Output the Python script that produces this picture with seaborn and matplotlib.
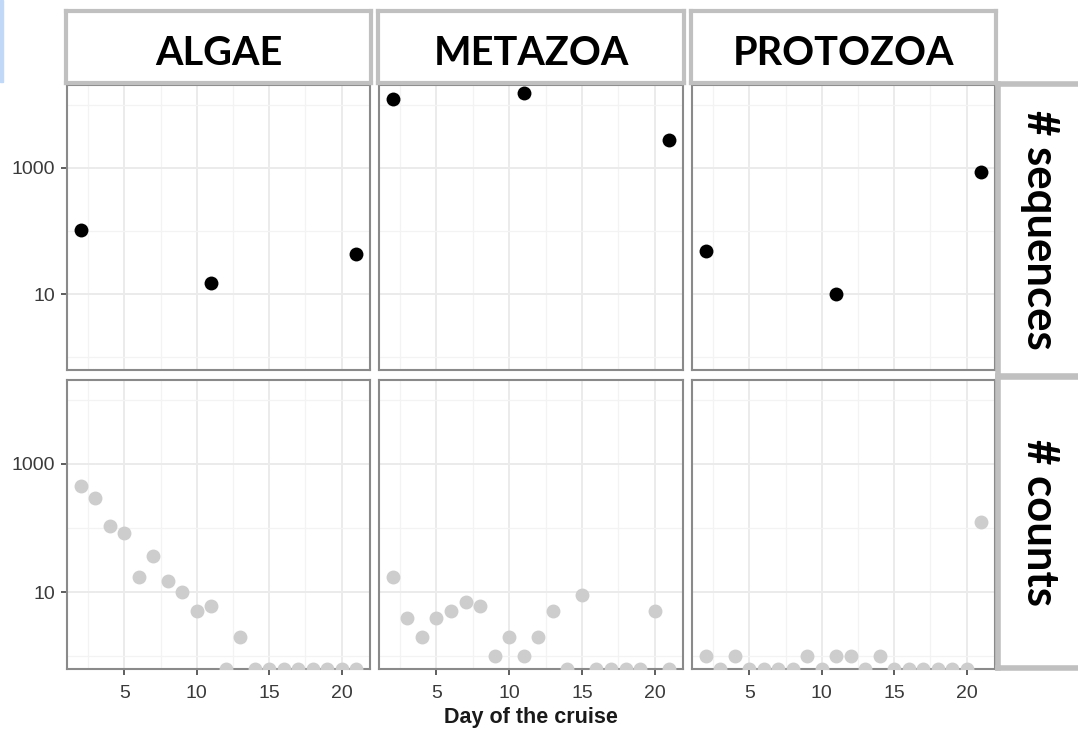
import numpy as np
import pandas as pd
import matplotlib
matplotlib.use("Agg")
import matplotlib.pyplot as plt
from matplotlib.patches import Rectangle
from matplotlib.ticker import FixedLocator, FuncFormatter, NullFormatter
import seaborn as sns

# facets
groups = ["ALGAE", "METAZOA", "PROTOZOA"]
measures = ["# sequences", "# counts"]

# sequences: only three sampling days
seq_days = [2, 11, 21]
seq_algae = [105, 15, 44]
seq_metazoa = [12400, 15500, 2800]
seq_protozoa = [48, 10, 850]

# counts: every day of the cruise (0 = nothing found)
count_days = list(range(2, 22))
counts_algae = [450, 295, 108, 83, 17, 36, 15, 10, 5, 6, 0, 2, 0, 0, 0, 0, 0, 0, 0, 0]
counts_metazoa = [17, 4, 2, 4, 5, 7, 6, 1, 2, 1, 2, 5, 0, 9, 0, 0, 0, 0, 5, 0]
counts_protozoa = [1, 0, 1, 0, 0, 0, 0, 1, 0, 1, 1, 0, 1, 0, 0, 0, 0, 0, 0, 125]

x_ticks = [5, 10, 15, 20]
y_ticks = [10, 1000]

rows = []
for g, vals in zip(groups, [seq_algae, seq_metazoa, seq_protozoa]):
    for d, v in zip(seq_days, vals):
        rows.append(dict(group=g, measure="# sequences", day=d, value=v))
for g, vals in zip(groups, [counts_algae, counts_metazoa, counts_protozoa]):
    for d, v in zip(count_days, vals):
        rows.append(dict(group=g, measure="# counts", day=d, value=v))
df = pd.DataFrame(rows)

sns.set_style("white")
plt.rcParams["font.family"] = ["Liberation Sans", "DejaVu Sans"]

W, H = 1078, 731
fig = plt.figure(figsize=(W / 100, H / 100), dpi=100)


def box(x0, y0, x1, y1):
    # pixel box (from top-left) -> figure fraction rect
    return [x0 / W, 1 - y1 / H, (x1 - x0) / W, (y1 - y0) / H]


col_px = [(67, 370), (379, 683), (692, 995)]
row_px = [(85, 370), (380, 669)]
point_colors = ["black", "#cdcdcd"]
ylo, yhi = 10 ** -0.2, 10 ** 4.31
xlo, xhi = 1.05, 21.95

for r, m in enumerate(measures):
    for c, g in enumerate(groups):
        ax = fig.add_axes(box(col_px[c][0], row_px[r][0], col_px[c][1], row_px[r][1]))
        sub = df[(df.group == g) & (df.measure == m)].copy()
        # zeros can't go on a log axis: park them on the lower edge like ggplot does
        sub["shown"] = sub["value"].where(sub["value"] > 0, ylo)
        ax.set_yscale("log")
        sns.scatterplot(data=sub, x="day", y="shown", ax=ax, color=point_colors[r],
                        s=100, linewidth=0, legend=False, zorder=3)
        ax.set_xlim(xlo, xhi)
        ax.set_ylim(ylo, yhi)
        ax.set_xlabel("")
        ax.set_ylabel("")

        ax.xaxis.set_major_locator(FixedLocator(x_ticks))
        ax.xaxis.set_minor_locator(FixedLocator([2.5, 7.5, 12.5, 17.5]))
        ax.yaxis.set_major_locator(FixedLocator(y_ticks))
        ax.yaxis.set_minor_locator(FixedLocator([1, 100, 10000]))
        ax.yaxis.set_major_formatter(FuncFormatter(lambda v, p: f"{v:g}"))
        ax.yaxis.set_minor_formatter(NullFormatter())
        ax.grid(which="major", color="#ebebeb", lw=1.4)
        ax.grid(which="minor", color="#f3f3f3", lw=0.9)
        ax.set_axisbelow(True)

        ax.tick_params(which="minor", length=0)
        ax.tick_params(which="major", length=4.5, width=1.1, color="#333333",
                       labelsize=14, labelcolor="#3a3a3a", pad=4)
        ax.tick_params(axis="x", pad=7)
        ax.tick_params(axis="x", bottom=(r == 1), labelbottom=(r == 1))
        ax.tick_params(axis="y", left=(c == 0), labelleft=(c == 0))
        for s in ax.spines.values():
            s.set_color("#8a8a8a")
            s.set_linewidth(1.5)

# column strips
for c, g in enumerate(groups):
    sax = fig.add_axes(box(col_px[c][0] - 1, 11, col_px[c][1] + 1, 83))
    sax.set_xticks([])
    sax.set_yticks([])
    for s in sax.spines.values():
        s.set_color("#c0c0c0")
        s.set_linewidth(3)
    sax.text(0.5, 0.25, g, ha="center", va="baseline", fontsize=28.5,
             fontweight="bold", family="Lato", color="black")

# row strips (right edge runs off the picture)
strip_rows = [(84, 376), (377, 668)]
for r, m in enumerate(measures):
    sax = fig.add_axes(box(998, strip_rows[r][0], 1110, strip_rows[r][1]))
    sax.set_xticks([])
    sax.set_yticks([])
    for s in sax.spines.values():
        s.set_color("#c0c0c0")
        s.set_linewidth(4)
    sax.text((1040 - 998) / (1110 - 998), 0.5, m, ha="center", va="center",
             rotation=270, fontsize=31.5, fontweight="bold", family="Lato", color="black")

fig.text(531 / W, 1 - 718 / H, "Day of the cruise", ha="center", va="center",
         fontsize=15.5, fontweight="bold", color="#1a1a1a")

# thin blue edge at top-left
fig.patches.append(Rectangle((0, 1 - 82 / H), 2.5 / W, 82 / H, transform=fig.transFigure,
                             color="#c2d8f7", zorder=0))

fig.savefig("out.png", dpi=100)
